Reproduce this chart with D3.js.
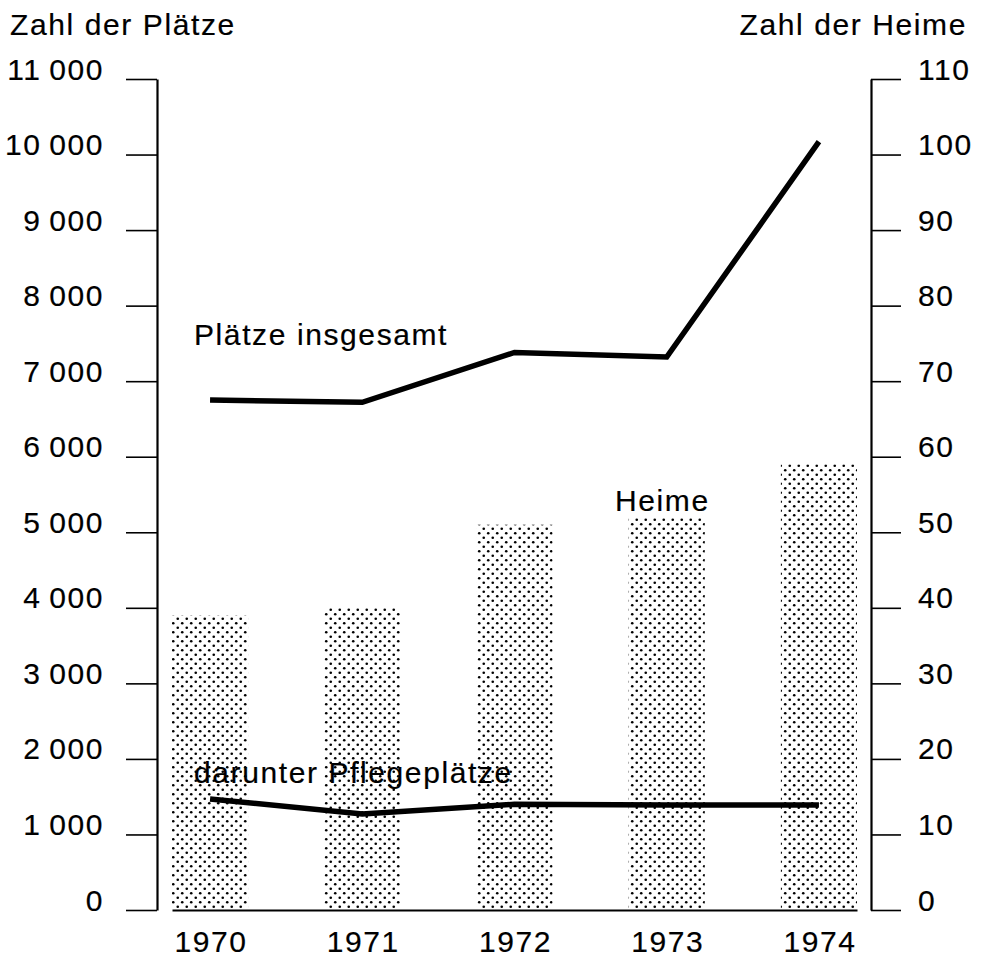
<!DOCTYPE html>
<html>
<head>
<meta charset="utf-8">
<script src="https://cdn.jsdelivr.net/npm/d3@7"></script>
<style>
  body { margin: 0; background: #fff; }
  svg text { font-family: "Liberation Sans", Arial, sans-serif; font-size: 30px; letter-spacing: 1.6px; fill: #000; stroke: #000; stroke-width: 0.2px; }
</style>
</head>
<body>
<div id="chart"></div>
<script>
const years = ['1970', '1971', '1972', '1973', '1974'];
const heime = [39, 40, 51, 52, 59];
const plaetzeGesamt = [6750, 6720, 7380, 7320, 10170];
const pflegeplaetze = [1470, 1270, 1400, 1390, 1390];
const leftTicks = [0, 1000, 2000, 3000, 4000, 5000, 6000, 7000, 8000, 9000, 10000, 11000];
const rightTicks = [0, 10, 20, 30, 40, 50, 60, 70, 80, 90, 100, 110];

const width = 983, height = 957;

let svg = d3.select('#chart').append('svg')
      .attr('width', width)
      .attr('height', height),
    x = d3.scaleBand()
      .domain(years)
      .range([172, 857])
      .paddingInner(0.5)
      .paddingOuter(0),
    y = d3.scaleLinear()
      .domain([0, 11000])
      .range([910, 79]),
    yR = d3.scaleLinear()
      .domain([0, 110])
      .range([910, 79]);

// dot raster for the bars
let pat = svg.append('defs').append('pattern')
    .attr('id', 'dots')
    .attr('patternUnits', 'userSpaceOnUse')
    .attr('width', 9)
    .attr('height', 9);
pat.append('circle').attr('cx', 2.25).attr('cy', 2.25).attr('r', 1.3).attr('fill', '#000');
pat.append('circle').attr('cx', 6.75).attr('cy', 6.75).attr('r', 1.3).attr('fill', '#000');

svg.selectAll('rect.bar')
  .data(heime)
  .enter()
  .append('rect')
    .attr('class', 'bar')
    .attr('x', (d, i) => x(years[i]))
    .attr('y', d => yR(d))
    .attr('width', x.bandwidth())
    .attr('height', d => yR(0) - yR(d))
    .attr('fill', 'url(#dots)');

// axes
const fmt = d => d3.format(',')(d).replace(',', '\u2009');

let yAxis = d3.axisLeft(y)
  .tickValues(leftTicks)
  .tickSize(31)
  .tickSizeOuter(0)
  .tickPadding(22)
  .tickFormat(fmt);

let yRAxis = d3.axisRight(yR)
  .tickValues(rightTicks)
  .tickSize(30)
  .tickSizeOuter(0)
  .tickPadding(17);

let xAxis = d3.axisBottom(x)
  .tickSize(0)
  .tickSizeOuter(0)
  .tickPadding(42);

let gl = svg.append('g')
  .attr('class', 'y-axis')
  .attr('transform', 'translate(157,0)')
  .call(yAxis);

let gr = svg.append('g')
  .attr('class', 'y-axis-right')
  .attr('transform', 'translate(871,0)')
  .call(yRAxis);

let gx = svg.append('g')
  .attr('class', 'x-axis')
  .attr('transform', 'translate(0,910)')
  .call(xAxis);

[gl, gr, gx].forEach(g => {
  g.attr('font-family', null).attr('font-size', null);
  g.select('.domain').attr('stroke', '#000').attr('stroke-width', 2.2);
  g.selectAll('.tick line').attr('stroke', '#000').attr('stroke-width', 1.6);
  g.selectAll('.tick text').attr('dy', 0);
});
gx.selectAll('.tick text').attr('dx', 1);

// lines
let line = d3.line()
  .x((d, i) => x(years[i]) + x.bandwidth() / 2)
  .y(d => y(d));

svg.append('path')
  .datum(plaetzeGesamt)
  .attr('d', line)
  .attr('fill', 'none')
  .attr('stroke', '#000')
  .attr('stroke-width', 5.5);

svg.append('path')
  .datum(pflegeplaetze)
  .attr('d', line)
  .attr('fill', 'none')
  .attr('stroke', '#000')
  .attr('stroke-width', 5.5);

// titles and labels
svg.append('text').attr('x', 10).attr('y', 35).text('Zahl der Plätze');
svg.append('text').attr('x', 967).attr('y', 35).style('text-anchor', 'end').text('Zahl der Heime');
svg.append('text').attr('x', 194).attr('y', 345).text('Plätze insgesamt');
svg.append('text').attr('x', 615).attr('y', 511).text('Heime');
svg.append('text').attr('x', 194).attr('y', 783).text('darunter Pflegeplätze');
</script>
</body>
</html>
